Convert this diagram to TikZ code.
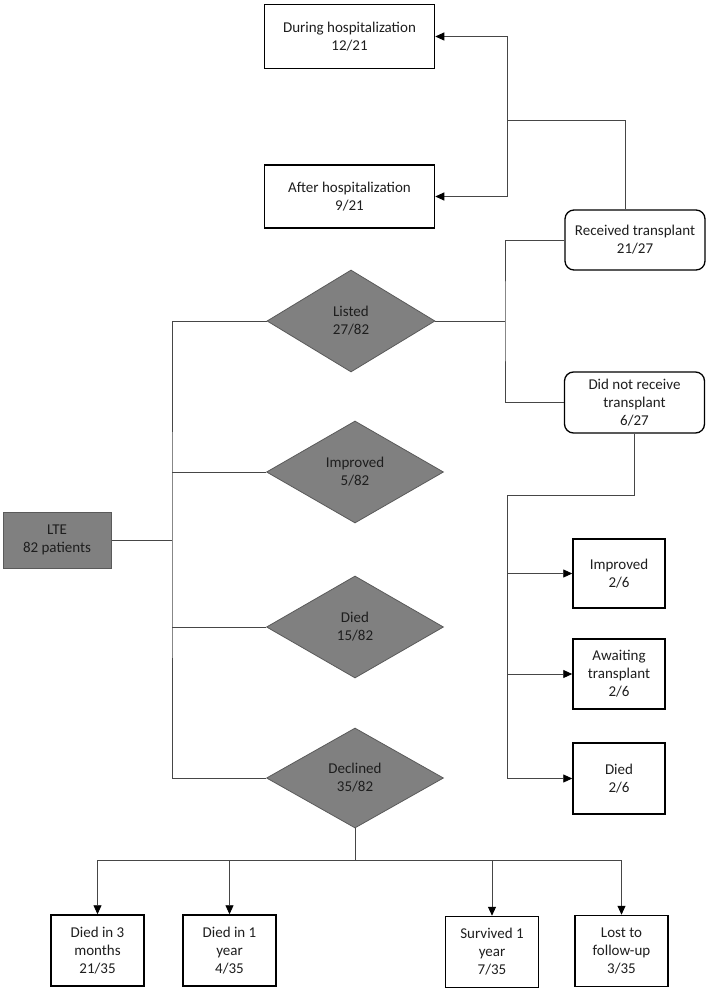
\documentclass[tikz,border=0pt]{standalone}
\usepackage{fontspec}
\setmainfont{Carlito}
\usepackage{xcolor}
\usetikzlibrary{shapes.geometric, arrows.meta}
\definecolor{decfill}{RGB}{128, 128, 128}
\definecolor{decline}{RGB}{90, 90, 90}
\definecolor{wire}{RGB}{70, 70, 70}
\definecolor{ink}{RGB}{30, 30, 30}

\begin{document}
\begin{tikzpicture}[
    x=1pt, y=-1pt,
    font=\fontsize{15}{18}\selectfont,
    outbox/.style={
        draw=black,
        line width=1.5pt,
        align=center,
        text=ink,
        inner sep=2pt,
        minimum width=#1
    },
    outbox/.default=93pt,
    roundbox/.style={
        outbox=140pt,
        rounded corners=9pt,
        line width=1.3pt,
        minimum height=60pt
    },
    decbox/.style={
        diamond,
        draw=decline,
        fill=decfill,
        line width=0.8pt,
        align=center,
        text=ink,
        minimum width=177pt,
        minimum height=102pt
    },
    conn/.style={draw=wire, line width=0.9pt},
    arr/.style={conn, -{Triangle[length=9pt, width=8pt, black]}}
]
\useasboundingbox (0,0) rectangle (709,992);

% === Start ===
\node[outbox=108pt, minimum height=56pt, fill=decfill, draw=decline, line width=1pt] (lte) at (57,540) {LTE\\82 patients};

% === Outcomes of evaluation ===
\node[decbox, minimum width=168pt] (listed) at (351,321) {Listed\\27/82};
\node[decbox] (improved) at (355,472) {Improved\\5/82};
\node[decbox] (died) at (355,627) {Died\\15/82};
\node[decbox, minimum height=100pt] (declined) at (355,778) {Declined\\35/82};

% === Listed branch ===
\node[roundbox] (rec) at (635,240) {Received transplant\\21/27};
\node[roundbox, minimum height=61pt] (did) at (634.5,402.5) {Did not receive\\transplant\\6/27};
\node[outbox=170pt, minimum height=64pt] (during) at (349.5,36.5) {During hospitalization\\12/21};
\node[outbox=170pt, minimum height=63pt] (after) at (349.5,196.5) {After hospitalization\\9/21};
\node[outbox=92pt, minimum height=69pt] (impr) at (619,573.5) {Improved\\2/6};
\node[outbox=92pt, minimum height=70pt] (await) at (619,674) {Awaiting\\transplant\\2/6};
\node[outbox=92pt, minimum height=71pt] (diedlist) at (619,778.5) {Died\\2/6};

% === Declined branch ===
\node[outbox, minimum height=71pt] (d3m) at (97.5,950.5) {Died in 3\\months\\21/35};
\node[outbox, minimum height=71pt] (d1y) at (229.5,950.5) {Died in 1\\year\\4/35};
\node[outbox, minimum height=71pt] (s1y) at (492,952) {Survived 1\\year\\7/35};
\node[outbox, minimum height=71pt] (lost) at (621.5,951) {Lost to\\follow-up\\3/35};

% === Junctions ===
\coordinate (jlte) at (172,540);
\coordinate (jlist) at (505,321);
\coordinate (jtop) at (507,120);
\coordinate (jdid) at (507,495);
\coordinate (jdec) at (355,860);

% === Connectors ===
\draw[conn] (lte.east) -- (jlte);
\draw[conn] (listed.west) -| (jlte) |- (declined.west);
\draw[conn] (improved.west) -- (improved.west -| jlte);
\draw[conn] (died.west) -- (died.west -| jlte);

\draw[conn] (listed.east) -- (jlist);
\draw[conn] (rec.west) -| (jlist) |- (did.west);
\draw[conn] ([xshift=-10pt]rec.north) |- (jtop);
\draw[arr] (jtop) |- (during.east);
\draw[arr] (jtop) |- (after.east);

\draw[conn] (did.south) |- (jdid);
\draw[arr] (jdid) |- (impr.west);
\draw[arr] (jdid) |- (await.west);
\draw[arr] (jdid) |- (diedlist.west);

\draw[conn] (declined.south) -- (jdec);
\foreach \b in {d3m, d1y, s1y, lost}
    \draw[arr] (jdec) -| (\b.north);

\end{tikzpicture}
\end{document}
